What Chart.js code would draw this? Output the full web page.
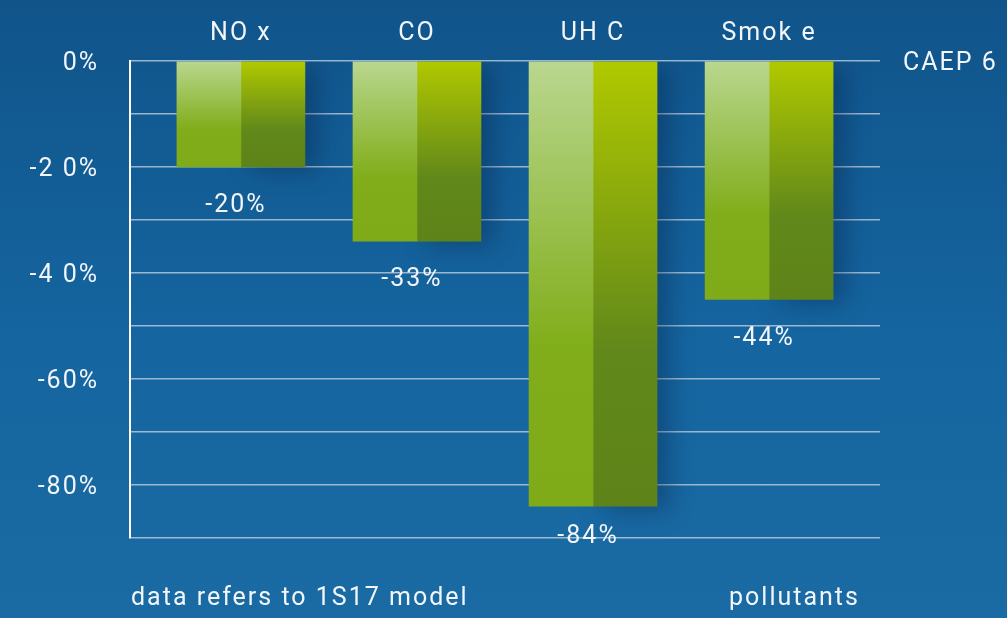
<!DOCTYPE html>
<html>
<head>
<meta charset="utf-8">
<script src="https://cdn.jsdelivr.net/npm/chart.js@4.4.1/dist/chart.umd.min.js"></script>
<style>
  html, body { margin: 0; padding: 0; }
  body { width: 1007px; height: 618px; overflow: hidden;
    background: linear-gradient(180deg, #10548a 0%, #1565a0 55%, #1a6aa3 100%); }
  #wrap { position: relative; width: 1007px; height: 618px; }
</style>
</head>
<body>
<div id="wrap"><canvas id="chart"></canvas></div>
<script>
const categories = ["NO x", "CO", "UH C", "Smok e"];
const reductions = [-20, -34, -84, -45];
const valueLabels = ["-20%", "-33%", "-84%", "-44%"];
const yTickLabels = ["0%", "-2 0%", "-4 0%", "-60%", "-80%"];
const seriesName = "CAEP 6";
const footLeft = "data refers to 1S17 model";
const footRight = "pollutants";

const FONT = "Roboto, 'DejaVu Sans', sans-serif";
const SIZE = 25;
const WHITE = "#f2f6fa";

const points = reductions.map((v, i) => ({ x: i + 1, y: v }));

function barGradient(top, mid, bottom) {
  return (ctx) => {
    const chart = ctx.chart;
    if (!chart.chartArea || !chart.scales.y || ctx.raw == null) return mid;
    const y0 = chart.scales.y.getPixelForValue(0);
    const y1 = chart.scales.y.getPixelForValue(ctx.raw.y);
    const g = chart.ctx.createLinearGradient(0, y0, 0, y1);
    g.addColorStop(0, top);
    g.addColorStop(0.65, mid);
    g.addColorStop(1, bottom);
    return g;
  };
}

// letter spacing for the DIN-like wide text, reset after each canvas resize
const spacingPlugin = {
  id: "spacing",
  beforeDraw(chart) { chart.ctx.letterSpacing = "2px"; }
};

// soft shadow only behind the right half (it is drawn first, left half covers the rest)
const shadowPlugin = {
  id: "shadow",
  beforeDatasetDraw(chart, args) {
    const c = chart.ctx;
    c.save();
    if (args.index === 1) {
      c.shadowColor = "rgba(5, 35, 75, 0.4)";
      c.shadowBlur = 24;
      c.shadowOffsetX = 12;
      c.shadowOffsetY = 4;
    }
  },
  afterDatasetDraw(chart) {
    chart.ctx.restore();
  }
};

const textPlugin = {
  id: "texts",
  afterDraw(chart) {
    const c = chart.ctx;
    const x = chart.scales.x, y = chart.scales.y;
    const floor = y.getPixelForValue(y.min);
    c.save();
    c.letterSpacing = "2px";
    c.fillStyle = WHITE;
    c.font = SIZE + "px " + FONT;
    c.textBaseline = "middle";
    c.textAlign = "center";
    reductions.forEach((v, i) => {
      const ly = Math.min(y.getPixelForValue(v) + 39, floor - 1);
      c.fillText(valueLabels[i], x.getPixelForValue(i + 1) - 5, ly);
    });
    c.textAlign = "left";
    c.fillText(seriesName, chart.chartArea.right + 23, y.getPixelForValue(0) + 3);
    c.fillText(footLeft, chart.chartArea.left + 1, 599);
    c.fillText(footRight, 729, 599);
    c.restore();
  }
};

new Chart(document.getElementById("chart"), {
  type: "bar",
  data: {
    datasets: [
      {
        label: seriesName,
        data: points,
        barThickness: 64,
        borderWidth: 0,
        backgroundColor: barGradient("#b9d78f", "#80ad19", "#7fab18")
      },
      {
        label: seriesName,
        data: points,
        barThickness: 64,
        borderWidth: 0,
        backgroundColor: barGradient("#b0c900", "#61881a", "#5e8419")
      }
    ]
  },
  options: {
    responsive: true,
    maintainAspectRatio: false,
    animation: false,
    layout: { padding: { left: 0, right: 127, top: 0, bottom: 80 } },
    plugins: { legend: { display: false }, tooltip: { enabled: false } },
    scales: {
      x: {
        type: "linear",
        position: "top",
        offset: false,
        min: 0.37,
        max: 4.63,
        afterBuildTicks: (s) => { s.ticks = categories.map((c, i) => ({ value: i + 1 })); },
        afterFit: (s) => { s.height = 61; },
        grid: { display: false, offset: false },
        border: { display: false },
        ticks: {
          color: WHITE,
          font: { family: FONT, size: SIZE },
          padding: 4,
          maxRotation: 0,
          callback: (v, i) => categories[i]
        }
      },
      y: {
        min: -90,
        max: 0,
        afterFit: (s) => { s.width = 130; },
        grid: { color: "rgba(200, 212, 224, 0.75)", lineWidth: 1.5, drawTicks: false },
        border: { color: "#ffffff", width: 2 },
        ticks: {
          stepSize: 10,
          color: WHITE,
          font: { family: FONT, size: SIZE },
          padding: 31,
          labelOffset: 3,
          callback: (v) => (v % 20 === 0 ? yTickLabels[-v / 20] : "")
        }
      }
    }
  },
  plugins: [spacingPlugin, shadowPlugin, textPlugin]
});
</script>
</body>
</html>
